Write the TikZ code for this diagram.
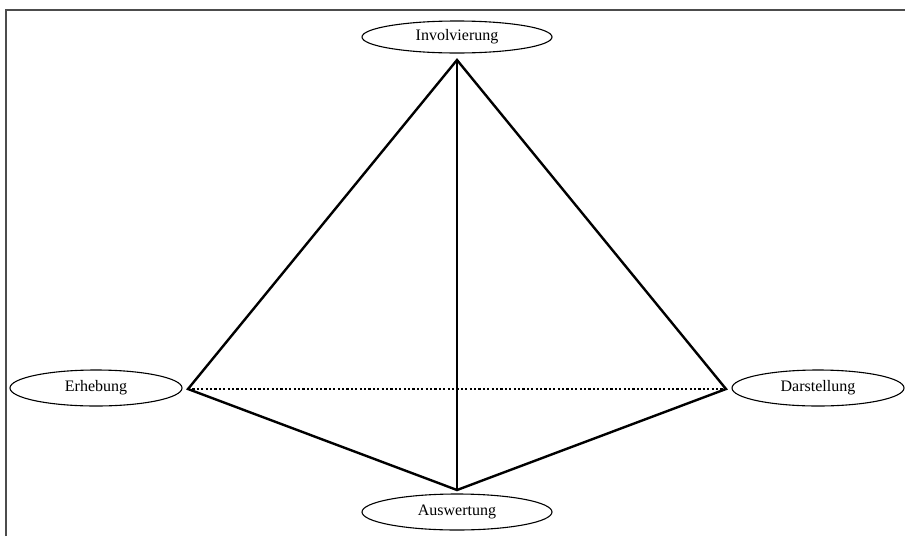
\documentclass[tikz,border=0pt]{standalone}
\usepackage{fontspec}
\setmainfont{Liberation Serif}
\usepackage{tikz}
\usetikzlibrary{shapes.geometric}
\tikzset{
	phase/.style={draw, ellipse, line width=1.1pt, inner sep=0pt, minimum height=36pt, font=\fontsize{16}{18}\selectfont},
	edge/.style={line width=2.4pt, line join=miter}
}

\begin{document}
\begin{tikzpicture}[x=1pt,y=-1pt]
	\useasboundingbox (0,0) rectangle (905,536);
	\draw[gray!60!black, line width=1.4pt] (6,536) -- (6,10) -- (905,10);

	\coordinate (T) at (457,60);
	\coordinate (L) at (188,389);
	\coordinate (R) at (726,389);
	\coordinate (B) at (457,490);

	\node[phase, minimum width=190pt, minimum height=32pt] (Inv) at (457,37) {Involvierung};
	\node[phase, minimum width=172pt] (Erh) at (96,388) {Erhebung};
	\node[phase, minimum width=172pt] (Dar) at (818,388) {Darstellung};
	\node[phase, minimum width=190pt] (Aus) at (457,512) {Auswertung};

	\draw[edge] (L) -- (T) -- (R) -- (B) -- cycle;
	\draw[edge] (T) -- (B);
	\draw[line width=2.2pt, dash pattern=on 2.2pt off 2.2pt] (L) -- (R);
\end{tikzpicture}
\end{document}
